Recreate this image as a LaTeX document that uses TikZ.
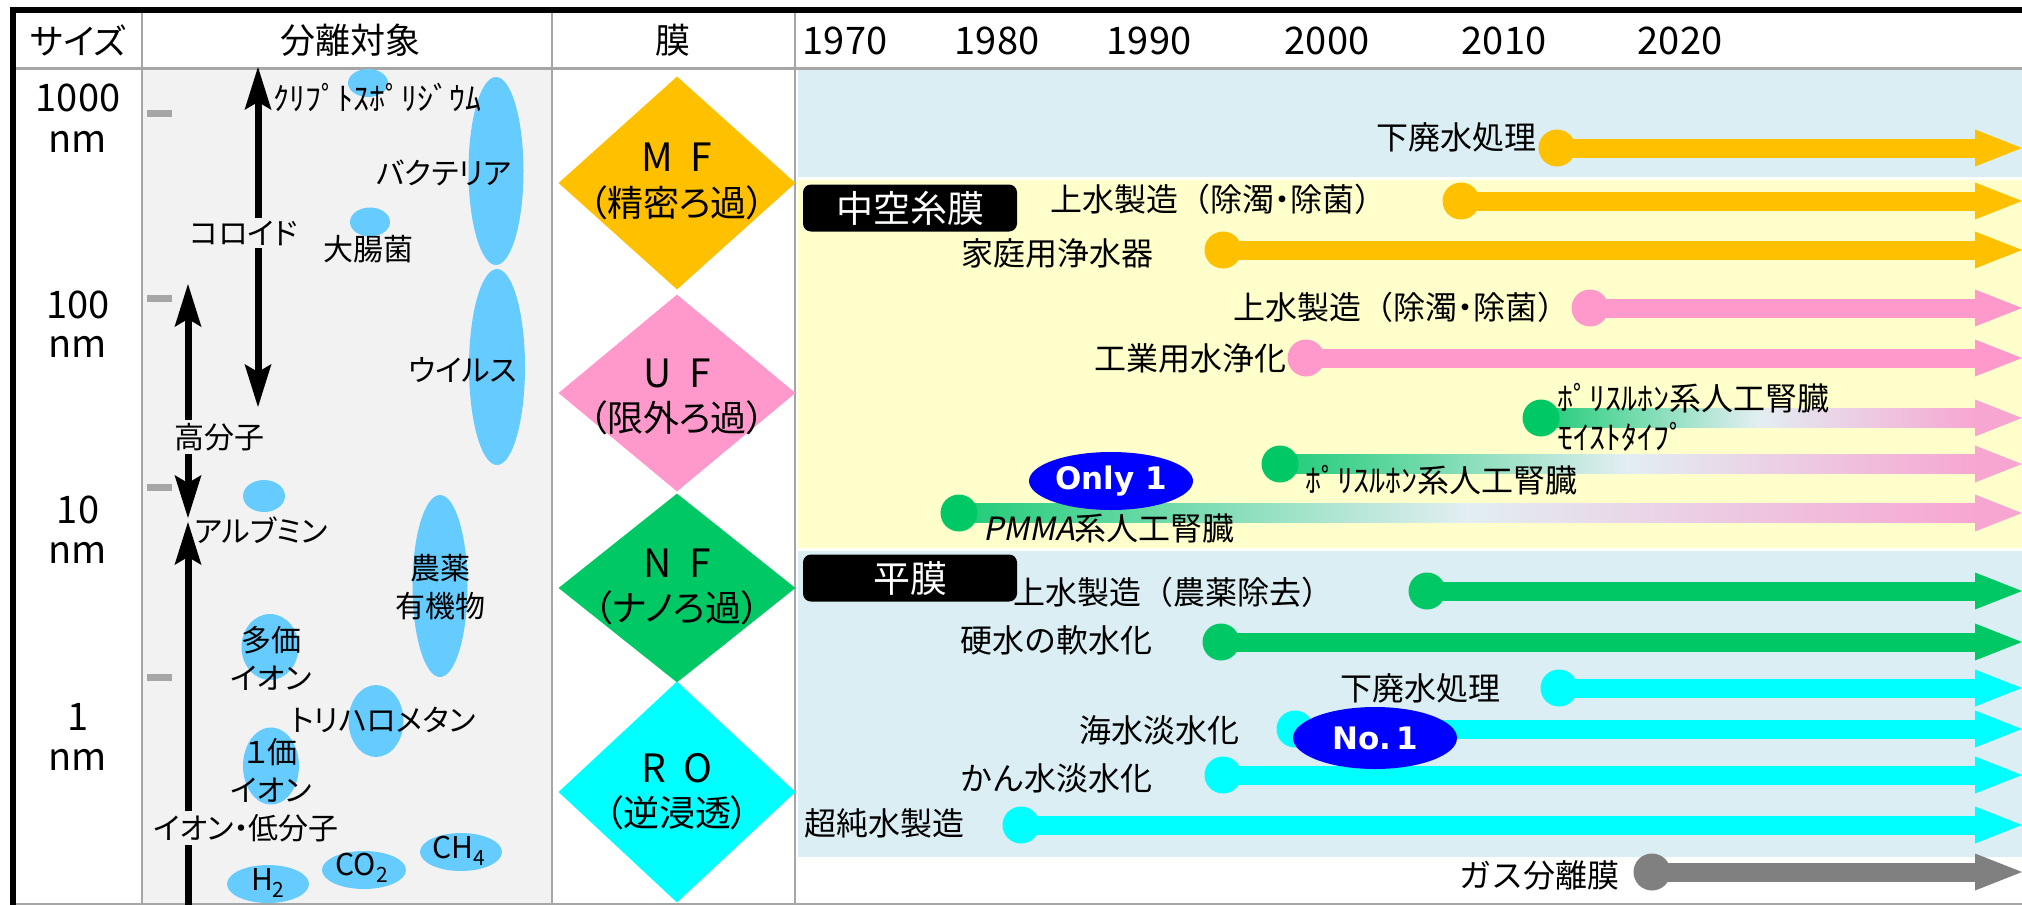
\documentclass[tikz,border=0pt]{standalone}
\usepackage{fontspec}
\setmainfont{Noto Sans CJK JP}
\newfontfamily\jpp{Noto Sans CJK JP}[RawFeature=+palt]
\newfontfamily\jpi{Noto Sans CJK JP}[FakeSlant=0.2]
\newfontfamily\dvs{DejaVu Sans}
\usetikzlibrary{arrows.meta,shapes.geometric,calc}
\definecolor{bandblue}{HTML}{DAEEF3}
\definecolor{bandyel}{HTML}{FFFFCC}
\definecolor{leftgray}{HTML}{F2F2F2}
\definecolor{blobc}{HTML}{66CCFF}
\definecolor{mfc}{HTML}{FFC000}
\definecolor{ufc}{HTML}{FF99CC}
\definecolor{nfc}{HTML}{00C864}
\definecolor{roc}{HTML}{00FFFF}
\definecolor{gasc}{HTML}{808080}
\definecolor{rulec}{HTML}{A6A6A6}
\definecolor{gmid}{HTML}{E2EEF2}
\definecolor{gpink}{HTML}{F7A6D2}
\definecolor{gstart}{HTML}{20CC78}
\begin{document}
\begin{tikzpicture}[x=1pt,y=-1pt,
  hdr/.style={font=\fontsize{35}{40}\selectfont, inner sep=0pt},
  num/.style={font=\fontsize{38}{42}\selectfont, inner sep=0pt},
  lft/.style={font=\jpp\fontsize{30}{38}\selectfont, inner sep=0pt, align=center},
  lftbg/.style={lft, fill=leftgray, inner sep=3pt},
  tl/.style={font=\fontsize{32}{36}\selectfont, inner sep=0pt},
  blobs/.style={ellipse, fill=blobc, inner sep=0pt},
  dot/.style={circle, fill=#1, minimum size=37pt, inner sep=0pt},
  bar/.style={draw=#1, line width=19pt, -{Triangle[length=47pt,width=37pt,line width=0pt]}},
  blkarr/.style={draw=black, line width=7pt},
  >={Stealth[length=43pt,width=27pt,inset=8pt,line width=0pt]},
  dia/.style={diamond, fill=#1, minimum width=237pt, inner sep=0pt},
  dlet/.style={font=\fontsize{39}{40}\selectfont, inner sep=0pt},
  dsub/.style={font=\jpp\fontsize{36}{38}\selectfont, inner sep=0pt},
  tagbox/.style={fill=black, text=white, rounded corners=8pt, minimum width=214pt, minimum height=47pt, inner sep=0pt, font=\fontsize{37}{40}\selectfont},
  badge/.style={ellipse, fill=blue, text=white, minimum width=164pt, inner sep=0pt, font=\dvs\bfseries\fontsize{31}{34}\selectfont},
  gshade/.style={left color=gstart, right color=gpink, middle color=gmid}
]
\useasboundingbox (0,0) rectangle (2022,905);
\fill[white] (0,0) rectangle (2022,905);
% backgrounds
\fill[leftgray] (142,69) rectangle (552,905);
\fill[bandblue] (798,70) rectangle (2022,177);
\fill[bandyel] (798,180) rectangle (2022,548);
\fill[bandblue] (798,551) rectangle (2022,857);
% frame
\draw[rulec, line width=2.5pt] (142,13) -- (142,905);
\draw[rulec, line width=2.5pt] (552,13) -- (552,905);
\draw[rulec, line width=2.5pt] (795,13) -- (795,905);
\draw[rulec, line width=3pt] (13,68) -- (2022,68);
\draw[rulec, line width=2pt] (13,904) -- (2022,904);
\draw[black, line width=6pt] (10,10) -- (2022,10);
\draw[black, line width=6pt] (13,7) -- (13,905);
% headers
\node[hdr] (hsize) at (78,40) {\jpp サイズ};
\node[hdr] (hobj) at (350,40) {分離対象};
\node[hdr] (hmem) at (673,40) {膜};
\node[num] (y1970) at (845,41) {1970};
\node[num] (y1980) at (997,41) {1980};
\node[num] (y1990) at (1149,41) {1990};
\node[num] (y2000) at (1327,41) {2000};
\node[num] (y2010) at (1504,41) {2010};
\node[num] (y2020) at (1680,41) {2020};
% size column
\node[num] (s1) at (78,98) {1000};
\node[num] (s1u) at (78,142) {nm};
\node[num] (s2) at (78,305) {100};
\node[num] (s2u) at (78,347) {nm};
\node[num] (s3) at (78,510) {10};
\node[num] (s3u) at (78,553) {nm};
\node[num] (s4) at (78,717) {1};
\node[num] (s4u) at (78,760) {nm};
\foreach \yy in {113,298,487,677} \fill[rulec] (147,\yy-3.5) rectangle (172,\yy+3.5);
% blobs
\node[blobs, minimum width=40pt, minimum height=28pt] (bcry) at (368,83) {};
\node[blobs, minimum width=55pt, minimum height=188pt] (bbac) at (496,171) {};
\node[blobs, minimum width=40pt, minimum height=29pt] (beco) at (370,222) {};
\node[blobs, minimum width=56pt, minimum height=196pt] (bvir) at (497,367) {};
\node[blobs, minimum width=42pt, minimum height=32pt] (balb) at (264,496) {};
\node[blobs, minimum width=55pt, minimum height=182pt] (bagr) at (440,586) {};
\node[blobs, minimum width=57pt, minimum height=66pt] (bmul) at (270,647) {};
\node[blobs, minimum width=55pt, minimum height=72pt] (bthm) at (376,721) {};
\node[blobs, minimum width=56pt, minimum height=77pt] (bmon) at (271,766) {};
\node[blobs, minimum width=82pt, minimum height=38pt] (bh2) at (268,884) {};
\node[blobs, minimum width=84pt, minimum height=38pt] (bco2) at (364,870) {};
\node[blobs, minimum width=82pt, minimum height=38pt] (bch4) at (461,852) {};
% black arrows
\coordinate (colT) at (258,67);
\coordinate (colB) at (258,407);
\coordinate (polT) at (188,284);
\coordinate (polB) at (188,518);
\coordinate (ionT) at (188,522);
\coordinate (ionB) at (188,905);
\draw[blkarr,<->] (colT) -- (colB);
\draw[blkarr,<->] (polT) -- (polB);
\draw[blkarr,->] (ionB) -- (ionT);
% left labels
\node[lft, anchor=west, font=\jpp\fontsize{32}{34}\selectfont] (tcry) at (273,97) {ｸﾘﾌﾟﾄｽﾎﾟﾘｼﾞｳﾑ};
\node[lft] (tbac) at (444,173) {バクテリア};
\node[lftbg] (tcol) at (244,233) {コロイド};
\node[lft] (teco) at (368,249) {大腸菌};
\node[lft] (tvir) at (463,370) {ウイルス};
\node[lftbg] (tpol) at (219,437) {高分子};
\node[lft] (talb) at (261,530) {アルブミン};
\node[lft] (tagr) at (440,587) {農薬\\有機物};
\node[lft] (tmul) at (271,658) {多価\\イオン};
\node[lft] (tthm) at (383,720) {トリハロメタン};
\node[lft] (tmon) at (271,770) {１価\\イオン};
\node[lftbg] (tion) at (246,828) {イオン・低分子};
\node[lft] (th2) at (268,883) {H\textsubscript{2}};
\node[lft] (tco2) at (362,868) {CO\textsubscript{2}};
\node[lft] (tch4) at (459,851) {CH\textsubscript{4}};
% diamonds
\node[dia=mfc, minimum height=213pt] (mf) at (677,183) {};
\node[dia=ufc, minimum height=197pt] (uf) at (677,393) {};
\node[dia=nfc, minimum height=189pt] (nf) at (677,588) {};
\node[dia=roc, minimum height=221pt] (ro) at (677,792) {};
\node[dlet] (mft) at (677,157) {M\hspace{0.45em}F};
\node[dsub] (mfs) at (677,203) {（精密ろ過）};
\node[dlet] (uft) at (677,373) {U\hspace{0.45em}F};
\node[dsub] (ufs) at (677,418) {（限外ろ過）};
\node[dlet] (nft) at (677,563) {N\hspace{0.45em}F};
\node[dsub] (nfs) at (677,608) {（ナノろ過）};
\node[dlet] (rot) at (677,768) {R\hspace{0.45em}O};
\node[dsub] (ros) at (677,813) {（逆浸透）};
% tags
\node[tagbox] (hollow) at (910,208) {中空糸膜};
\node[tagbox] (flat) at (910,578) {平膜};
% MF rows
\node[dot=mfc] (d1) at (1557,148) {}; \coordinate (e1) at (2022,148);
\draw[bar=mfc] (d1.center) -- (e1);
\node[tl, anchor=east] (l1) at (1537,137) {下廃水処理};
\node[dot=mfc] (d2) at (1461,201) {}; \coordinate (e2) at (2022,201);
\draw[bar=mfc] (d2.center) -- (e2);
\node[tl, anchor=east] (l2) at (1387,199) {上水製造（除濁{\jpp ・}除菌）};
\node[dot=mfc] (d3) at (1223,250) {}; \coordinate (e3) at (2022,250);
\draw[bar=mfc] (d3.center) -- (e3);
\node[tl, anchor=east] (l3) at (1154,253) {家庭用浄水器};
% UF rows
\node[dot=ufc] (d4) at (1590,308) {}; \coordinate (e4) at (2022,308);
\draw[bar=ufc] (d4.center) -- (e4);
\node[tl, anchor=east] (l4) at (1570,307) {上水製造（除濁{\jpp ・}除菌）};
\node[dot=ufc] (d5) at (1306,358) {}; \coordinate (e5) at (2022,358);
\draw[bar=ufc] (d5.center) -- (e5);
\node[tl, anchor=east] (l5) at (1287,358) {工業用水浄化};
% gradient rows
\coordinate (s6) at (1541,418); \coordinate (e6) at (2022,418);
\shade[gshade] ($(s6)+(0,-9.5)$) rectangle ($(e6)+(-47,9.5)$);
\draw[bar=gpink] ($(e6)+(-49,0)$) -- (e6);
\node[dot=nfc] (d6) at (s6) {};
\node[tl, anchor=west] (l6a) at (1557,398) {ﾎﾟﾘｽﾙﾎﾝ系人工腎臓};
\node[tl, anchor=west] (l6b) at (1557,437) {ﾓｲｽﾄﾀｲﾌﾟ};
\coordinate (s7) at (1280,464); \coordinate (e7) at (2022,464);
\shade[gshade] ($(s7)+(0,-9.5)$) rectangle ($(e7)+(-47,9.5)$);
\draw[bar=gpink] ($(e7)+(-49,0)$) -- (e7);
\node[dot=nfc] (d7) at (s7) {};
\node[tl, anchor=west] (l7) at (1305,480) {ﾎﾟﾘｽﾙﾎﾝ系人工腎臓};
\coordinate (s8) at (959,513); \coordinate (e8) at (2022,513);
\shade[gshade] ($(s8)+(0,-9.5)$) rectangle ($(e8)+(-47,9.5)$);
\draw[bar=gpink] ($(e8)+(-49,0)$) -- (e8);
\node[dot=nfc] (d8) at (s8) {};
\node[tl, anchor=west] (l8) at (983,528) {{\jpi PMMA}系人工腎臓};
\node[badge, minimum height=58pt] (only1) at (1111,481) {Only 1};
% NF rows
\node[dot=nfc] (d9) at (1427,591) {}; \coordinate (e9) at (2022,591);
\draw[bar=nfc] (d9.center) -- (e9);
\node[tl, anchor=east] (l9) at (1334,592) {上水製造（農薬除去）};
\node[dot=nfc] (d10) at (1221,642) {}; \coordinate (e10) at (2022,642);
\draw[bar=nfc] (d10.center) -- (e10);
\node[tl, anchor=east] (l10) at (1153,640) {硬水の軟水化};
% RO rows
\node[dot=roc] (d11) at (1559,688) {}; \coordinate (e11) at (2022,688);
\draw[bar=roc] (d11.center) -- (e11);
\node[tl, anchor=east] (l11) at (1501,688) {下廃水処理};
\node[dot=roc] (d12) at (1295,729) {}; \coordinate (e12) at (2022,729);
\draw[bar=roc] (d12.center) -- (e12);
\node[tl, anchor=east] (l12) at (1240,730) {海水淡水化};
\node[dot=roc] (d13) at (1223,775) {}; \coordinate (e13) at (2022,775);
\draw[bar=roc] (d13.center) -- (e13);
\node[tl, anchor=east] (l13) at (1153,778) {かん水淡水化};
\node[dot=roc] (d14) at (1021,825) {}; \coordinate (e14) at (2022,825);
\draw[bar=roc] (d14.center) -- (e14);
\node[tl, anchor=east] (l14) at (965,823) {超純水製造};
\node[badge, minimum height=62pt] (no1) at (1375,738) {No.\,1};
% gas
\node[dot=gasc] (d15) at (1652,872) {}; \coordinate (e15) at (2022,872);
\draw[bar=gasc] (d15.center) -- (e15);
\node[tl, anchor=east] (l15) at (1620,875) {ガス分離膜};
\end{tikzpicture}
\end{document}
